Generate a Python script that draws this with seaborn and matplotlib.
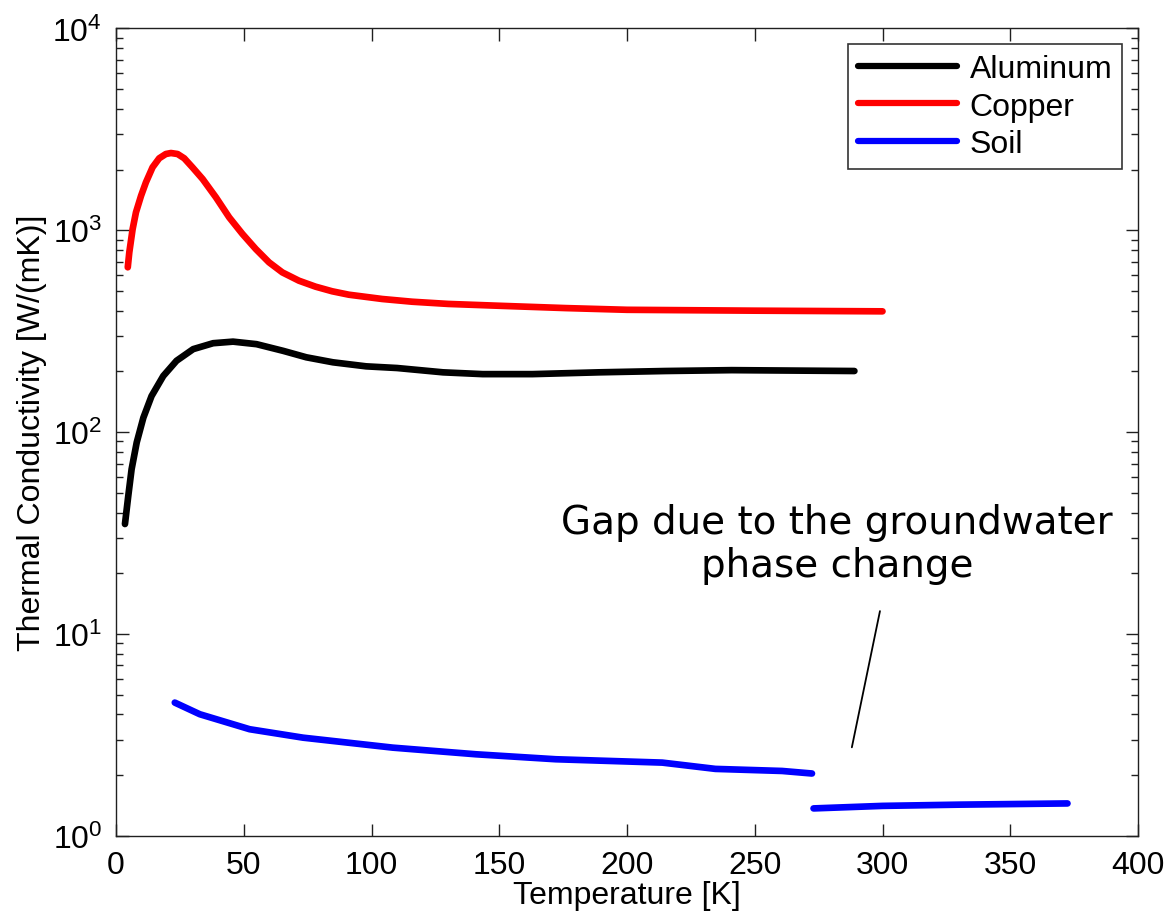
import numpy as np
import pandas as pd
import matplotlib
matplotlib.use("Agg")
import matplotlib.pyplot as plt
import matplotlib.ticker as mticker
import seaborn as sns

# Thermal conductivity data [W/(mK)] versus temperature [K]
copper_T = [4.6, 5.2, 6.5, 7.8, 9.8, 11.7, 14.3, 16.9, 19.5, 21.5, 24.1, 26.7,
            29.9, 33.9, 39.1, 44.3, 49.5, 54.7, 59.9, 65.1, 71.6, 78.1, 84.6,
            91.1, 104.2, 115.9, 130, 150, 176, 200, 250, 300]
copper_k = [656, 778, 1014, 1227, 1483, 1728, 2052, 2274, 2388, 2415, 2388, 2274,
            2052, 1795, 1457, 1159, 959, 808, 694, 619, 563, 526, 499,
            480, 457, 443, 432, 423, 412, 404, 400, 397]

aluminum_T = [3.5, 4.8, 6.1, 8.1, 10.7, 13.9, 18.5, 23.7, 30.2, 38.0, 45.8, 55.0,
              65.4, 74.5, 84.9, 97.9, 110, 128, 143.5, 163, 189, 215, 241, 289]
aluminum_k = [35.1, 48.4, 65.6, 89, 118, 151, 190, 226, 258, 276, 281, 273,
              253, 235, 222, 212, 208, 198, 194, 194, 198, 201, 203, 201]

# Soil: frozen branch and thawed branch (separated by the groundwater phase change)
soil_frozen_T = [23.0, 32.8, 52.3, 73.2, 108.3, 140.9, 172.1, 213.8, 234.6, 260.7, 272.4]
soil_frozen_k = [4.58, 4.01, 3.38, 3.07, 2.74, 2.54, 2.40, 2.31, 2.15, 2.10, 2.04]
soil_thawed_T = [273.0, 300.0, 330.0, 372.4]
soil_thawed_k = [1.37, 1.41, 1.43, 1.45]

materials = ["Aluminum", "Copper", "Soil"]
colors = ["#000000", "#ff0000", "#0000ff"]

annotation_text = "Gap due to the groundwater\nphase change"
leader_start = (299.0, 13.0)
leader_end = (288.0, 2.75)

frames = [
    pd.DataFrame({"T": aluminum_T, "k": aluminum_k, "material": "Aluminum", "segment": "al"}),
    pd.DataFrame({"T": copper_T, "k": copper_k, "material": "Copper", "segment": "cu"}),
    pd.DataFrame({"T": soil_frozen_T, "k": soil_frozen_k, "material": "Soil", "segment": "soil_frozen"}),
    pd.DataFrame({"T": soil_thawed_T, "k": soil_thawed_k, "material": "Soil", "segment": "soil_thawed"}),
]
df = pd.concat(frames, ignore_index=True)

sns.set_style("ticks")
plt.rcParams["font.family"] = ["Liberation Sans", "DejaVu Sans"]
plt.rcParams["mathtext.fontset"] = "custom"
plt.rcParams["mathtext.rm"] = "Liberation Sans"
plt.rcParams["mathtext.it"] = "Liberation Sans:italic"
plt.rcParams["mathtext.bf"] = "Liberation Sans:bold"
plt.rcParams["text.color"] = "black"
plt.rcParams["axes.labelcolor"] = "black"
plt.rcParams["xtick.color"] = "black"
plt.rcParams["ytick.color"] = "black"
plt.rcParams["lines.solid_joinstyle"] = "round"

FS = 23

fig = plt.figure(figsize=(11.66, 9.2), dpi=100)
ax = fig.add_axes([0.0995, 0.0902, 0.8765, 0.8778])

sns.lineplot(data=df, x="T", y="k", hue="material", units="segment",
             estimator=None, hue_order=materials, palette=colors,
             linewidth=4.8, sort=False, ax=ax)
for line in ax.get_lines():
    line.set_solid_joinstyle("round")

ax.set_yscale("log")
ax.set_xlim(0, 400)
ax.set_ylim(1, 1e4)
ax.xaxis.set_major_locator(mticker.MultipleLocator(50))
ax.yaxis.set_major_locator(mticker.LogLocator(base=10, numticks=10))
ax.yaxis.set_minor_locator(mticker.LogLocator(base=10, subs=np.arange(2, 10), numticks=20))
ax.yaxis.set_major_formatter(mticker.LogFormatterSciNotation())
ax.yaxis.set_minor_formatter(mticker.NullFormatter())

ax.tick_params(which="both", direction="in", top=True, right=True,
               labelsize=FS, width=1.0, color="#202020", labelcolor="black")
ax.tick_params(which="major", length=9, pad=10)
ax.tick_params(which="minor", length=5)
for s in ax.spines.values():
    s.set_visible(True)
    s.set_linewidth(1.0)
    s.set_color("#202020")

ax.set_xlabel("Temperature [K]", fontsize=FS, labelpad=0)
ax.set_ylabel("Thermal Conductivity [W/(mK)]", fontsize=FS, labelpad=4)

# leader line and annotation text
ax.plot([leader_start[0], leader_end[0]], [leader_start[1], leader_end[1]],
        color="black", linewidth=1.3)
ax.text(0.7055, 0.362, annotation_text, transform=ax.transAxes,
        ha="center", va="center", fontsize=28, family="DejaVu Sans",
        linespacing=1.15, color="black")

handles, labels = ax.get_legend_handles_labels()
leg = ax.legend(handles, labels, loc="upper right", fontsize=FS, frameon=True,
                fancybox=False, edgecolor="black", handlelength=3.1,
                handletextpad=0.4, labelspacing=0.24, borderpad=0.3,
                borderaxespad=0.5)
leg.get_frame().set_linewidth(1.2)
for line in leg.get_lines():
    line.set_linewidth(4.5)

fig.savefig("out.png", dpi=100)
